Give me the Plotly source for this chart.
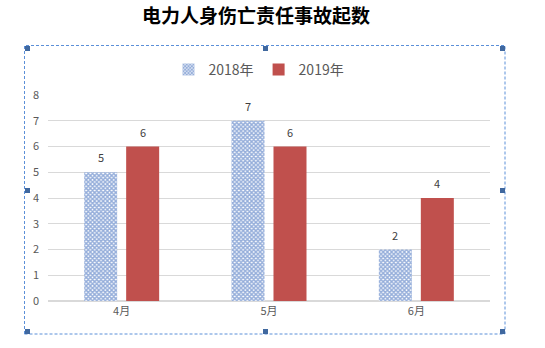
import plotly.graph_objects as go

months = ["4月", "5月", "6月"]
series_names = ["2018年", "2019年"]
accidents_2018 = [5, 7, 2]
accidents_2019 = [6, 6, 4]
y_ticks = [0, 1, 2, 3, 4, 5, 6, 7, 8]

W, H = 545, 348
ML, MR, MT, MB = 48, 55, 95, 47
PW, PH = W - ML - MR, H - MT - MB

FONT = "Noto Sans CJK SC, Liberation Sans, sans-serif"
GRAY = "#595959"


def px_x(x):
    return (x - ML) / PW


def px_y(y):
    return (H - MB - y) / PH


fig = go.Figure()
fig.add_trace(go.Bar(
    name=series_names[0], x=months, y=accidents_2018,
    marker=dict(color="white", line=dict(width=0),
                pattern=dict(shape="x", fgcolor="#2a5cb5", bgcolor="white",
                             size=3, solidity=0.72)),
))
fig.add_trace(go.Bar(
    name=series_names[1], x=months, y=accidents_2019,
    marker=dict(color="#c0504d", line=dict(width=0)),
))

# value labels above each bar
for vals, shift in ((accidents_2018, -21), (accidents_2019, 21)):
    for m, v in zip(months, vals):
        fig.add_annotation(x=m, y=v, text=str(v), showarrow=False,
                           xshift=shift, yshift=15, yanchor="middle",
                           font=dict(family=FONT, size=11, color="#404040"))

# dashed selection frame with handles
L, R, T, B = 24.5, 505, 45.5, 334
fig.add_shape(type="rect", xref="paper", yref="paper",
              x0=px_x(L), x1=px_x(R), y0=px_y(B), y1=px_y(T),
              line=dict(color="#5b8fd8", width=1, dash="3px,2px"))
hs = 5
for hx, hy in [(25, 46), (263, 46), (500, 46), (25, 188), (500, 188),
               (25, 329), (263, 329), (500, 329)]:
    fig.add_shape(type="rect", xref="paper", yref="paper",
                  x0=px_x(hx), x1=px_x(hx + hs), y0=px_y(hy + hs), y1=px_y(hy),
                  line=dict(width=0), fillcolor="#40689f")

fig.update_layout(
    width=W, height=H,
    margin=dict(l=ML, r=MR, t=MT, b=MB),
    paper_bgcolor="white", plot_bgcolor="white",
    barmode="group", bargap=0.43, bargroupgap=0.214,
    title=dict(text="<b>电力人身伤亡责任事故起数</b>", x=256 / W, xanchor="center",
               y=1 - 16 / H, yanchor="middle",
               font=dict(family=FONT, size=19, color="black")),
    legend=dict(orientation="h", x=px_x(259), xanchor="center", y=px_y(70),
                yanchor="middle", font=dict(family=FONT, size=14, color=GRAY),
                itemwidth=30, bgcolor="rgba(0,0,0,0)"),
    font=dict(family=FONT, color=GRAY),
    xaxis=dict(showgrid=False, showline=True, linecolor="#d9d9d9", linewidth=1,
               tickfont=dict(size=11, color=GRAY), ticks=""),
    yaxis=dict(range=[0, 8], tickvals=y_ticks, showgrid=True, gridcolor="#d9d9d9",
               gridwidth=1, zeroline=True, zerolinecolor="#d9d9d9",
               tickfont=dict(size=11, color=GRAY), ticklabelstandoff=8),
)

fig.write_html("out.html")
